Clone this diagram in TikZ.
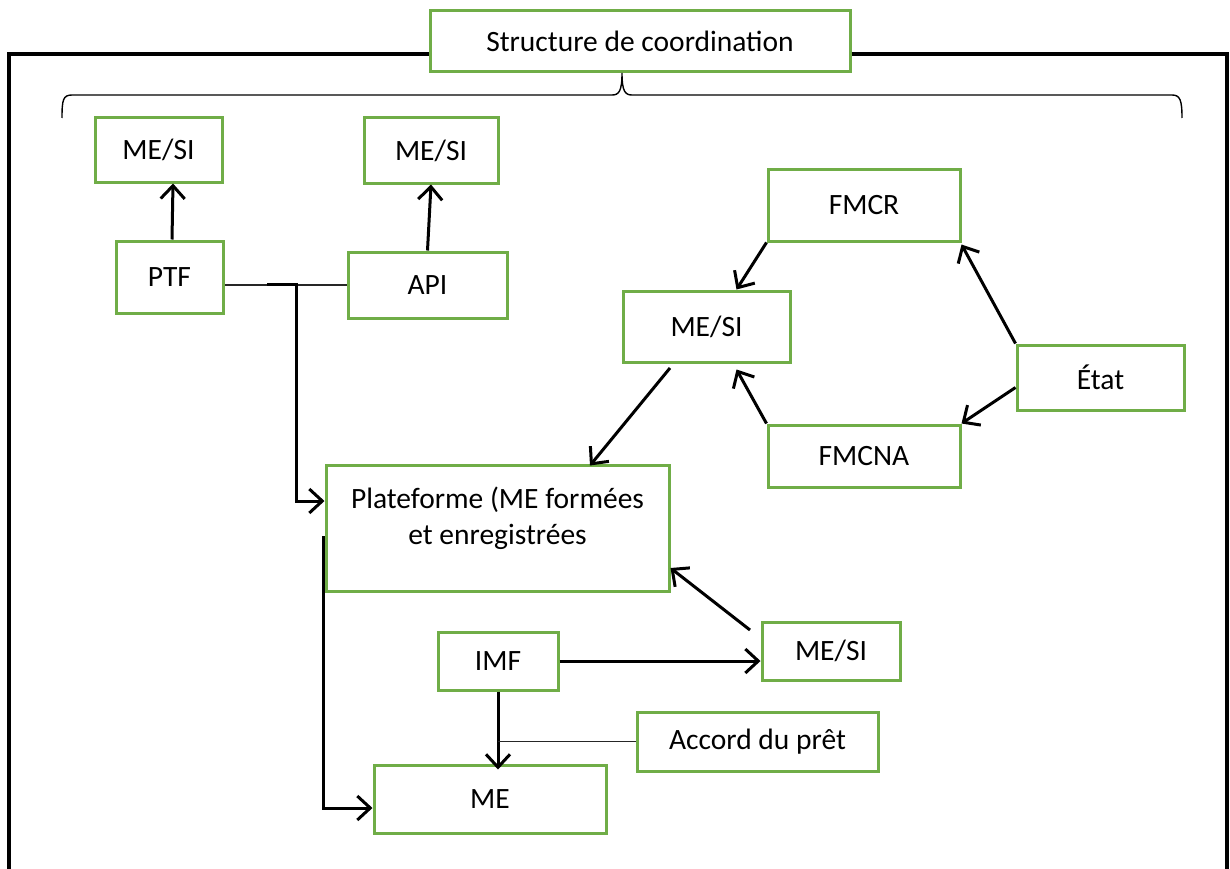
\documentclass[tikz,border=0pt]{standalone}
\usepackage{fontspec}
\setmainfont{Carlito}
\usetikzlibrary{arrows.meta,calc}
\definecolor{boxgreen}{RGB}{112,173,71}
\begin{document}
\begin{tikzpicture}[x=1pt,y=-1pt,
  box/.style={draw=boxgreen,line width=3pt,fill=white,inner sep=0pt,font=\fontsize{29.5}{36}\selectfont},
  txt/.style={inner sep=0pt,align=center,font=\fontsize{29.5}{36}\selectfont},
  arr/.style={line width=3pt,-{Straight Barb[length=13pt,width=24pt,line width=3pt]}},
  thn/.style={line width=1.6pt,draw=black!85},
  frame/.style={line width=3.2pt}]
\useasboundingbox (0,0) rectangle (1230,869);
% nodes
\node[box,minimum width=420pt,minimum height=61pt] (title) at (640,41.5) {Structure de coordination};
\node[box,minimum width=127pt,minimum height=64pt] (mesi1) at (158.5,150) {ME/SI};
\node[box,minimum width=134pt,minimum height=65pt] (mesi2) at (431,150.5) {ME/SI};
\node[box,minimum width=107pt,minimum height=72pt] (ptf) at (169.5,277) {PTF};
\node[box,minimum width=159pt,minimum height=66pt] (api) at (427.5,285) {API};
\node[box,minimum width=192pt,minimum height=71pt] (fmcr) at (864,205.5) {FMCR};
\node[box,minimum width=167pt,minimum height=71pt] (mesi3) at (706.5,326.5) {ME/SI};
\node[box,minimum width=167pt,minimum height=65pt] (etat) at (1100.5,377.5) {État};
\node[box,minimum width=192pt,minimum height=62pt] (fmcna) at (864,456) {FMCNA};
\node[box,minimum width=343pt,minimum height=126pt] (plat) at (497.5,528) {};
\node[txt] (plattxt) at (497.5,518) {Plateforme (ME formées\\et enregistrées};
\node[box,minimum width=138pt,minimum height=58pt] (mesi4) at (831,651) {ME/SI};
\node[box,minimum width=120pt,minimum height=58pt] (imf) at (498,661) {IMF};
\node[box,minimum width=241pt,minimum height=59pt] (accord) at (757.5,741.5) {Accord du prêt};
\node[box,minimum width=232pt,minimum height=68pt] (me) at (490,799) {ME};
% frame
\coordinate (fl) at (9,869);
\coordinate (fr) at (1227,869);
\draw[frame] (title.west |- 0,54) -- (9,54) -- (fl);
\draw[frame] (title.east |- 0,54) -- (1227,54) -- (fr);
% brace
\draw[line width=1.4pt] (62,118) .. controls (62,100) and (63,95) .. (72,95) -- (612,95)
  .. controls (619,95) and (622,91) .. (622,73) .. controls (622,91) and (625,95) .. (632,95)
  -- (1172,95) .. controls (1180,95) and (1182,100) .. (1182,118);
% connectors
\draw[arr] ([xshift=2.5pt]ptf.north) -- ([xshift=14.5pt]mesi1.south);
\draw[arr] (api.north) -- (mesi2.south);
\draw[thn] (api.west) -- (ptf.east |- api.west);
\coordinate (j1) at (267,284);
\coordinate (b1) at (296,284);
\draw[arr] (j1) -- (b1) |- ([yshift=27pt]plat.west);
\coordinate (s2) at (323,536);
\draw[arr] (s2) |- ([yshift=-9pt]me.west);
\draw[arr] (imf.east) -- (imf.east -| mesi4.west);
\draw[arr,shorten >=-6pt] (imf.south) -- (imf.south |- me.north);
\draw[thn] (accord.west) -- (accord.west -| imf.south);
\coordinate (s4) at (750,630);
\draw[arr] (s4) -- ([yshift=-40pt]plat.east);
\coordinate (s3) at (670,368);
\draw[arr] (s3) -- ([xshift=92.5pt,yshift=-2pt]plat.north);
\draw[arr] (fmcr.south west) -- ([xshift=30pt]mesi3.north);
\draw[arr] (etat.north west) -- ([yshift=-2pt]fmcr.south east);
\draw[arr] ([yshift=-10pt]etat.west) -- (fmcna.north east);
\draw[arr] (fmcna.north west) -- ([xshift=30pt,yshift=-6pt]mesi3.south);
\end{tikzpicture}
\end{document}
